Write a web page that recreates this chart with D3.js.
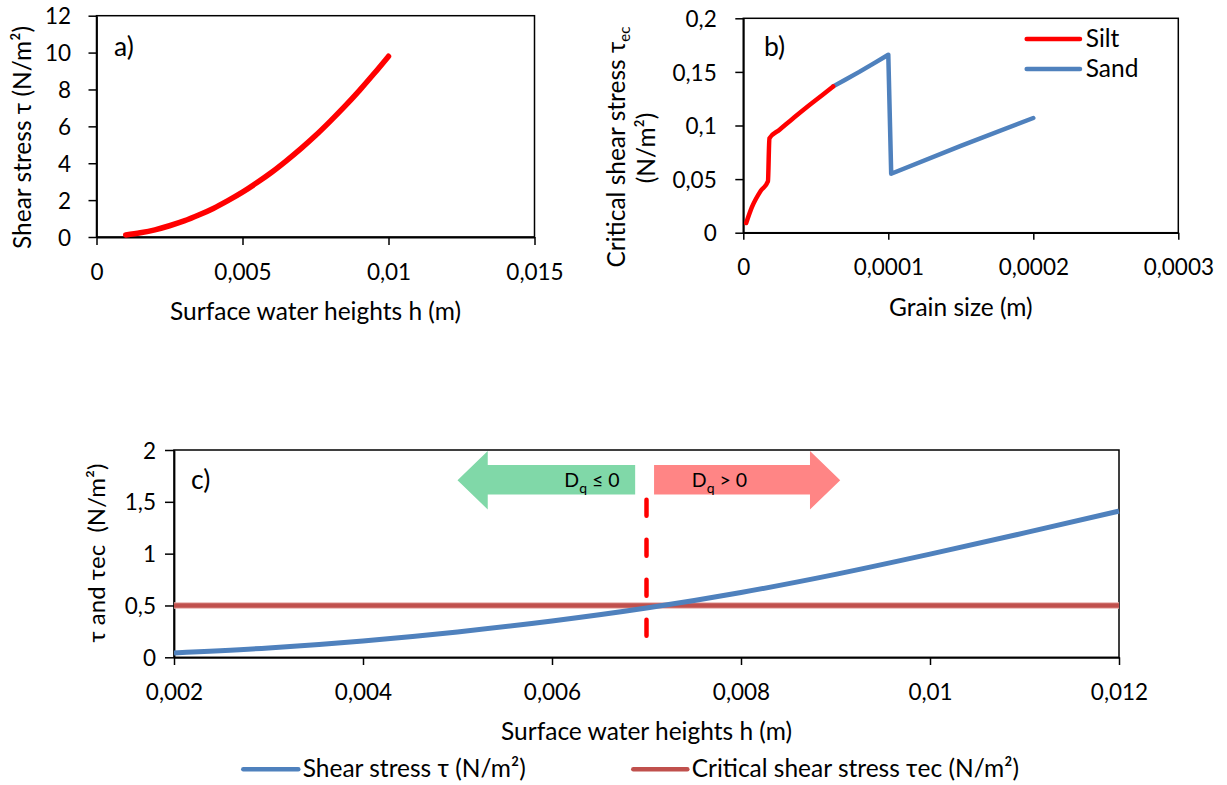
<!DOCTYPE html>
<html>
<head>
<meta charset="utf-8">
<script src="https://cdn.jsdelivr.net/npm/d3@7"></script>
<style>
  body { margin: 0; background: #fff; }
  text { font-family: Lato, "Open Sans", sans-serif; fill: #000; }
</style>
</head>
<body>
<svg width="1227" height="785"></svg>
<script>
// a) shear stress against surface water height
const hA   = [0.001, 0.0015, 0.002, 0.0025, 0.003, 0.0035, 0.004, 0.0045, 0.005, 0.0055,
              0.006, 0.0065, 0.007, 0.0075, 0.008, 0.0085, 0.009, 0.0095, 0.01];
const tauA = [0.11, 0.23, 0.39, 0.61, 0.87, 1.19, 1.55, 1.97, 2.43, 2.95,
              3.51, 4.13, 4.79, 5.5, 6.27, 7.08, 7.94, 8.85, 9.8];

// b) critical shear stress against grain size
const siltD   = [0.000002, 0.000006, 0.000012, 0.000017, 0.000018, 0.000025, 0.000035, 0.000045, 0.000055, 0.000062];
const siltTau = [0.009, 0.024, 0.039, 0.048, 0.088, 0.096, 0.1075, 0.1185, 0.129, 0.1365];
const sandD   = [0.000062, 0.00007, 0.00008, 0.00009, 0.0001, 0.000102, 0.00015, 0.0002];
const sandTau = [0.1365, 0.1425, 0.150, 0.158, 0.166, 0.055, 0.081, 0.107];

// c) tau and tau_ec against surface water height
const hC      = [0.002, 0.003, 0.004, 0.005, 0.006, 0.007, 0.008, 0.009, 0.01, 0.011, 0.012];
const tauC    = [0.042, 0.09, 0.158, 0.245, 0.35, 0.475, 0.625, 0.8, 0.995, 1.2, 1.41];
const critH   = [0.002, 0.012];
const critTau = [0.5, 0.5];

// threshold marker and the two arrows (data units)
const hLimit       = 0.007;
const limitTau     = [0.15, 1.52];
const greenArrowH  = [0.00688, 0.00532, 0.005];   // tail, head base, tip
const redArrowH    = [0.00708, 0.00873, 0.00905];
const arrowBodyTau = [1.57, 1.855];
const arrowHeadTau = [1.425, 1.99];

const xTicksA = [0, 0.005, 0.01, 0.015];
const yTicksA = [0, 2, 4, 6, 8, 10, 12];
const xTicksB = [0, 0.0001, 0.0002, 0.0003];
const yTicksB = [0, 0.05, 0.1, 0.15, 0.2];
const xTicksC = [0.002, 0.004, 0.006, 0.008, 0.01, 0.012];
const yTicksC = [0, 0.5, 1, 1.5, 2];

const svg = d3.select("svg");
const fmt = d => String(+d.toFixed(6)).replace(".", ",");

function panel(box, xDom, yDom, xTicks, yTicks, yLabX, tick) {
  const x = d3.scaleLinear().domain(xDom).range([box.l, box.r]);
  const y = d3.scaleLinear().domain(yDom).range([box.b, box.t]);
  const g = svg.append("g");

  g.append("rect")
    .attr("x", box.l).attr("y", box.t)
    .attr("width", box.r - box.l).attr("height", box.b - box.t)
    .attr("fill", "none").attr("stroke", "#000").attr("stroke-width", 1.5);

  const xa = g.append("g")
    .attr("transform", `translate(0,${box.b})`)
    .call(d3.axisBottom(x).tickValues(xTicks).tickFormat(fmt).tickSize(tick[0]).tickSizeOuter(0));
  xa.selectAll("text").attr("y", 42.5).attr("dy", null).style("font-size", "22.5px");

  const ya = g.append("g")
    .attr("transform", `translate(${box.l},0)`)
    .call(d3.axisLeft(y).tickValues(yTicks).tickFormat(fmt).tickSize(tick[1]).tickSizeOuter(0));
  ya.selectAll("text").attr("x", yLabX).attr("dy", "0.36em").style("font-size", "22.5px");

  g.selectAll(".domain").attr("stroke-width", 1.8);
  g.selectAll(".tick line").attr("stroke-width", 1.5);
  return { x, y, g };
}

function label(txt, x, y, size, anchor, rot) {
  const t = svg.append("text")
    .attr("transform", `translate(${x},${y})` + (rot ? " rotate(-90)" : ""))
    .attr("text-anchor", anchor || "start")
    .style("font-size", size + "px")
    .style("white-space", "pre");
  t.text(txt);
  return t;
}

// ---------- a) ----------
const A = panel({ l: 96.5, r: 534.5, t: 15.7, b: 237 }, [0, 0.015], [0, 12], xTicksA, yTicksA, -25.5, [8, 8]);
A.g.append("path")
  .datum(hA.map((h, i) => [h, tauA[i]]))
  .attr("fill", "none").attr("stroke", "#ff0000").attr("stroke-width", 5.5)
  .attr("stroke-linecap", "round").attr("stroke-linejoin", "round")
  .attr("d", d3.line().x(d => A.x(d[0])).y(d => A.y(d[1])).curve(d3.curveMonotoneX));
label("a)", 114, 55.5, 26.5);
label("Surface water heights h (m)", 315.5, 320, 24.5, "middle");
label("Shear stress τ (N/m²)", 30.5, 137.5, 24.5, "middle", true);

// ---------- b) ----------
const B = panel({ l: 743.3, r: 1178.3, t: 18.3, b: 232.7 }, [0, 0.0003], [0, 0.2], xTicksB, yTicksB, -26.6, [7, 8]);
B.g.append("path")
  .datum(sandD.map((d, i) => [d, sandTau[i]]))
  .attr("fill", "none").attr("stroke", "#4f81bd").attr("stroke-width", 4.5)
  .attr("stroke-linecap", "round").attr("stroke-linejoin", "round")
  .attr("d", d3.line().x(d => B.x(d[0])).y(d => B.y(d[1])));
B.g.append("path")
  .datum(siltD.map((d, i) => [d, siltTau[i]]))
  .attr("fill", "none").attr("stroke", "#ff0000").attr("stroke-width", 4.5)
  .attr("stroke-linecap", "round").attr("stroke-linejoin", "round")
  .attr("d", d3.line().x(d => B.x(d[0])).y(d => B.y(d[1])).curve(d3.curveMonotoneX));
label("b)", 764, 56, 26.5);
label("Grain size (m)", 960.8, 316, 24.5, "middle");
const bt = label("Critical shear stress τ", 625, 147, 24.5, "middle", true);
bt.append("tspan").attr("dy", "0.3em").style("font-size", "15px").text("ec");
label("(N/m²)", 655, 148, 24.5, "middle", true);

const legB = [["Silt", "#ff0000", 39], ["Sand", "#4f81bd", 69]];
legB.forEach(([name, col, ly]) => {
  svg.append("line").attr("x1", 1026.7).attr("x2", 1080).attr("y1", ly).attr("y2", ly)
    .attr("stroke", col).attr("stroke-width", 4.5).attr("stroke-linecap", "round");
  label(name, 1085.7, ly + 8, 24.5);
});

// ---------- c) ----------
const C = panel({ l: 174, r: 1119, t: 450, b: 657.3 }, [0.002, 0.012], [0, 2], xTicksC, yTicksC, -18, [7.7, 9]);
const lineC = d3.line().x(d => C.x(d[0])).y(d => C.y(d[1]));
const critPts = critH.map((h, i) => [h, critTau[i]]);
C.g.append("path").datum(critPts).attr("fill", "none").attr("stroke", "#e9b3b1").attr("stroke-width", 6.5).attr("d", lineC);
C.g.append("path").datum(critPts).attr("fill", "none").attr("stroke", "#c0504d").attr("stroke-width", 4.5).attr("d", lineC);
C.g.append("path")
  .datum(hC.map((h, i) => [h, tauC[i]]))
  .attr("fill", "none").attr("stroke", "#4f81bd").attr("stroke-width", 5)
  .attr("d", d3.line().x(d => C.x(d[0])).y(d => C.y(d[1])).curve(d3.curveMonotoneX));

C.g.append("line")
  .attr("x1", C.x(hLimit)).attr("x2", C.x(hLimit))
  .attr("y1", C.y(limitTau[1])).attr("y2", C.y(limitTau[0]))
  .attr("stroke", "#ff0000").attr("stroke-width", 4.5).attr("stroke-linecap", "round")
  .attr("stroke-dasharray", "16 24");

function arrow(hs, col) {
  const mid = (arrowHeadTau[0] + arrowHeadTau[1]) / 2;
  const pts = [
    [hs[0], arrowBodyTau[0]], [hs[1], arrowBodyTau[0]], [hs[1], arrowHeadTau[0]],
    [hs[2], mid], [hs[1], arrowHeadTau[1]], [hs[1], arrowBodyTau[1]], [hs[0], arrowBodyTau[1]]
  ];
  C.g.append("polygon")
    .attr("points", pts.map(p => [C.x(p[0]), C.y(p[1])].join(",")).join(" "))
    .attr("fill", col);
}
arrow(greenArrowH, "#80d8a8");
arrow(redArrowH, "#ff8585");

function dq(h, rest) {
  const t = svg.append("text").attr("x", C.x(h)).attr("y", C.y(1.64)).style("font-size", "19.5px");
  t.append("tspan").text("D");
  t.append("tspan").attr("dy", 6).style("font-size", "14px").text("q");
  t.append("tspan").attr("dy", -6).style("white-space", "pre").text(rest);
}
dq(0.00613, " ≤ 0");
dq(0.00748, " > 0");

label("c)", 191, 489, 26.5);
label("Surface water heights h (m)", 646.5, 740, 24.5, "middle");
label("τ and τec  (N/m²)", 105, 553, 24, "middle", true);

const legC = [["Shear stress τ (N/m²)", "#4f81bd", 243.3, 298.3], ["Critical shear stress τec (N/m²)", "#c0504d", 633.3, 687.3]];
legC.forEach(([name, col, x1, x2]) => {
  svg.append("line").attr("x1", x1).attr("x2", x2).attr("y1", 769.3).attr("y2", 769.3)
    .attr("stroke", col).attr("stroke-width", 4.5).attr("stroke-linecap", "round");
  label(name, x2 + 4.4, 777.3, 24.5);
});
</script>
</body>
</html>
